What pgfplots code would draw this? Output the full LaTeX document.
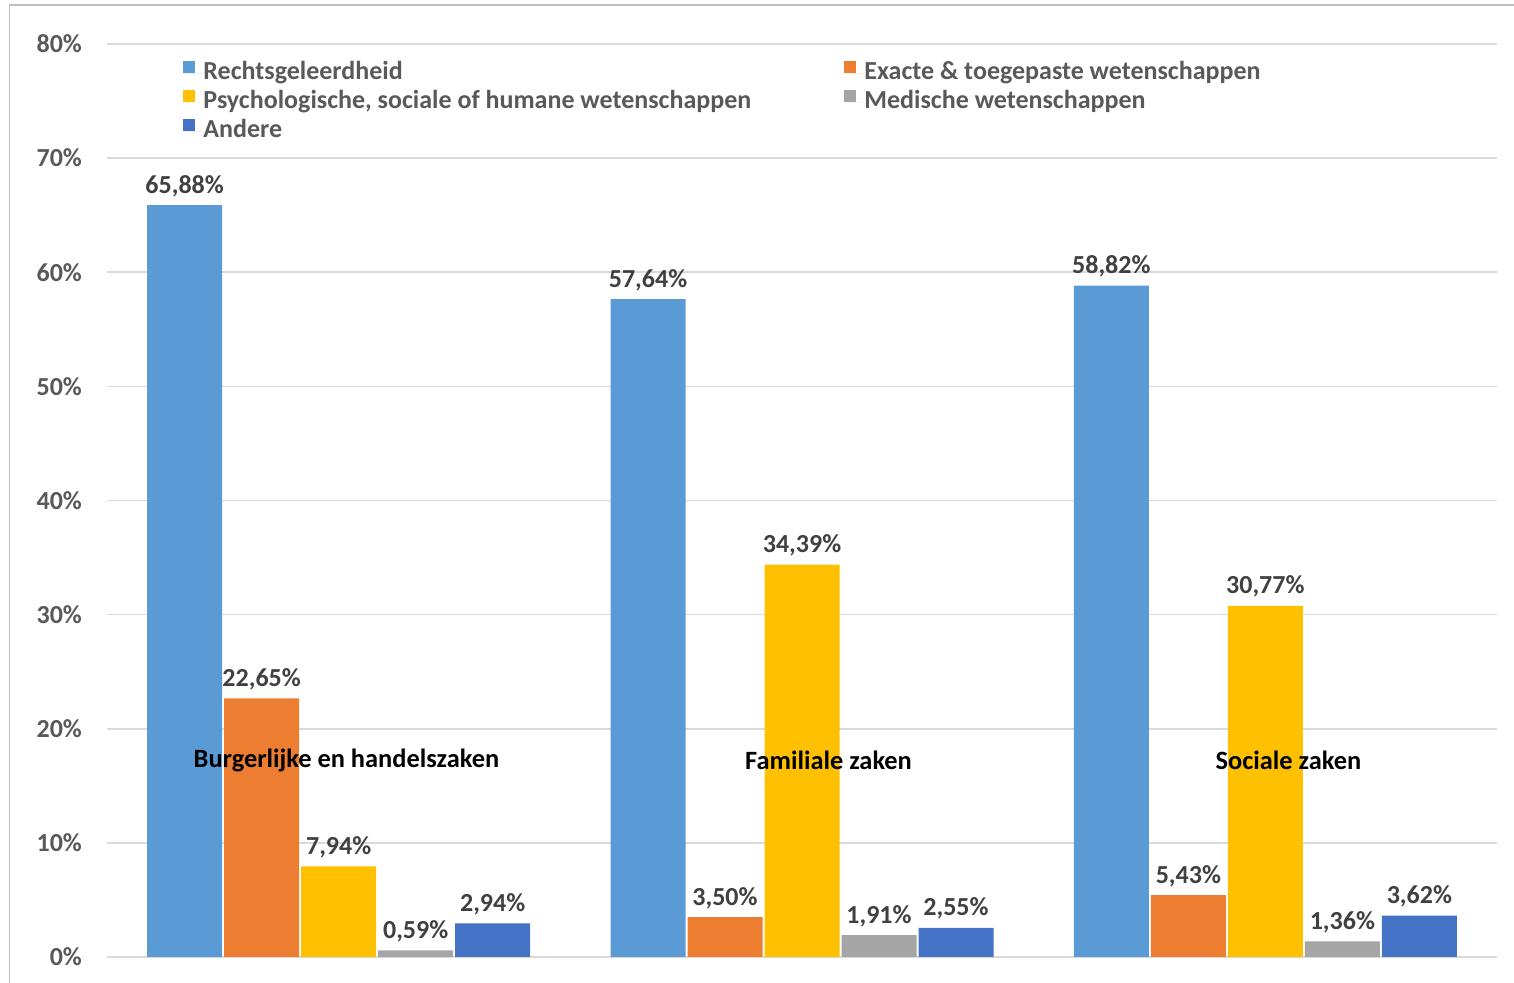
\documentclass[border=0pt]{standalone}
\usepackage{pgfplots}
\pgfplotsset{compat=1.18}
\usepackage{fontspec}
\setmainfont{Carlito}

\definecolor{cRecht}{HTML}{5B9BD5}
\definecolor{cExact}{HTML}{ED7D31}
\definecolor{cPsych}{HTML}{FFC000}
\definecolor{cMed}{HTML}{A5A5A5}
\definecolor{cAnder}{HTML}{4472C4}
\definecolor{gridgray}{HTML}{D9D9D9}
\definecolor{ticktext}{HTML}{595959}
\definecolor{labeltext}{HTML}{404040}

% 1 px of the reference = 0.5pt
\pgfplotstableread{
grp recht exact psych med ander
0   65.88 22.65 7.94  0.59 2.94
1   57.64 3.50  34.39 1.91 2.55
2   58.82 5.43  30.77 1.36 3.62
}\datatable

\begin{document}
\begin{tikzpicture}
\useasboundingbox (-53.5pt,-13pt) rectangle (703.5pt,478.5pt);
\draw[color=black!25, line width=0.6pt] (-48.75pt,-13pt) -- (-48.75pt,476pt) -- (703.5pt,476pt);
\begin{axis}[
    scale only axis,
    width=695pt, height=456.5pt,
    ybar=1pt, bar width=37.5pt,
    xmin=-0.5, xmax=2.5,
    ymin=0, ymax=80,
    xtick=\empty,
    ytick={0,10,...,80},
    yticklabel={\pgfmathprintnumber{\tick}\%},
    /pgf/number format/assume math mode=true,
    yticklabel style={font=\fontsize{13}{15}\selectfont\bfseries, text=ticktext, xshift=-9pt},
    ymajorgrids, grid style={gridgray, line width=0.8pt},
    major tick length=0pt,
    axis line style={draw=none},
    clip=false,
    nodes near coords={\pgfmathprintnumber[fixed,fixed zerofill,precision=2,use comma]{\pgfplotspointmeta}\%},
    nodes near coords style={font=\fontsize{13}{15}\selectfont\bfseries, text=labeltext, anchor=base, yshift=6pt},
    legend columns=2,
    legend cell align=left,
    legend style={draw=none, fill=none, inner sep=0pt, row sep=2.5pt,
        at={(axis description cs:0.0547,0.982)}, anchor=north west,
        nodes={inner sep=0pt, text height=8.5pt, text depth=2.5pt, text=ticktext,
               font=\fontsize{13}{15}\selectfont\bfseries}},
    legend image code/.code={\fill[#1,draw=none] (0pt,0.5pt) rectangle (6pt,6.5pt); \path (0pt,0pt) -- (10pt,0pt);},
]
\addplot[fill=cRecht, draw=none] table[x=grp, y=recht] {\datatable};
\addlegendentry{\makebox[320.5pt][l]{Rechtsgeleerdheid}}
\addplot[fill=cExact, draw=none] table[x=grp, y=exact] {\datatable};
\addlegendentry{Exacte \& toegepaste wetenschappen}
\addplot[fill=cPsych, draw=none] table[x=grp, y=psych] {\datatable};
\addlegendentry{\makebox[320.5pt][l]{Psychologische, sociale of humane wetenschappen}}
\addplot[fill=cMed, draw=none] table[x=grp, y=med] {\datatable};
\addlegendentry{Medische wetenschappen}
\addplot[fill=cAnder, draw=none] table[x=grp, y=ander] {\datatable};
\addlegendentry{Andere}

\node[font=\fontsize{13.2}{15}\selectfont\bfseries, text=black] at (axis cs:0.0169,17.26) {Burgerlijke en handelszaken};
\node[font=\fontsize{13.2}{15}\selectfont\bfseries, text=black] at (axis cs:1.0572,17.26) {Familiale zaken};
\node[font=\fontsize{13.2}{15}\selectfont\bfseries, text=black] at (axis cs:2.050,17.26) {Sociale zaken};
\end{axis}
\end{tikzpicture}
\end{document}
